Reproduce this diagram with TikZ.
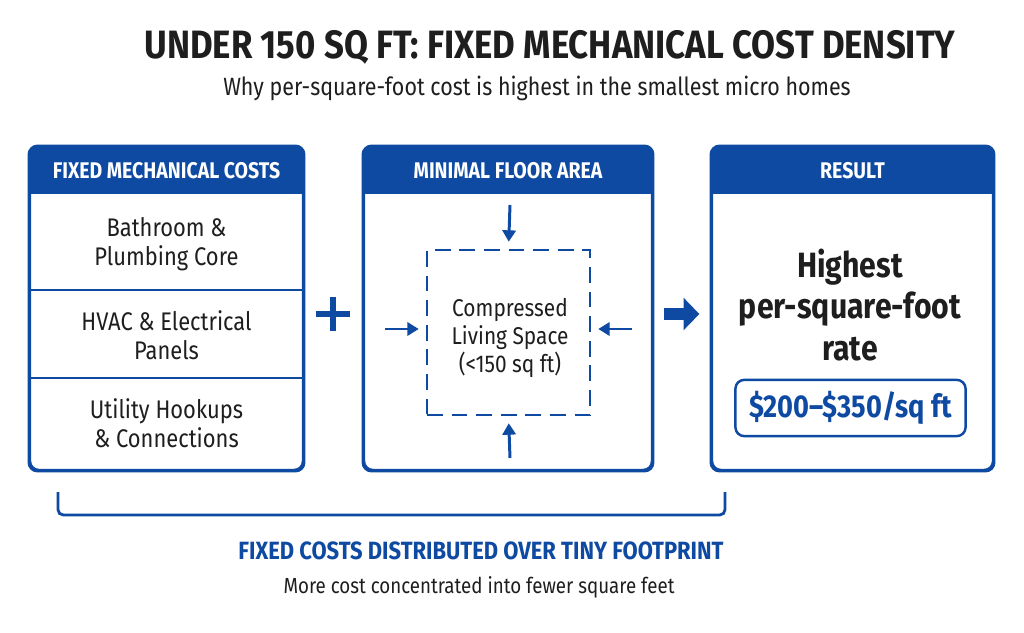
\documentclass[tikz,border=0pt]{standalone}
\usepackage{fontspec}
\setmainfont{Fira Sans}[FakeStretch=0.86]
\newfontfamily\titlefont{Fira Sans}[FakeStretch=0.88]
\usepackage{tikz}
\usetikzlibrary{arrows.meta,fit}

\definecolor{brand}{RGB}{14,74,162}
\definecolor{ink}{RGB}{30,30,30}

\tikzset{
    panel/.style={draw=brand, line width=1.4pt, rounded corners=5pt, inner sep=0pt},
    hdrtext/.style={text=white, font=\bfseries\fontsize{12.9}{14}\selectfont},
    rowtext/.style={text=ink, align=center, font=\fontsize{14.5}{16.5}\selectfont},
    squeeze/.style={draw=brand, line width=1.7pt, -{Triangle[length=6.5pt,width=7.5pt]}}
}

\begin{document}
\begin{tikzpicture}[x=0.02cm, y=-0.02cm]
    \useasboundingbox[fill=white] (0,0) rectangle (1024,632);

    % titles
    \node[text=ink, font=\titlefont\bfseries\fontsize{22.5}{24}\selectfont] (title) at (550,47)
        {UNDER 150 SQ FT: FIXED MECHANICAL COST DENSITY};
    \node[text=ink, font=\fontsize{14.2}{16}\selectfont] (subtitle) at (537,88)
        {Why per-square-foot cost is highest in the smallest micro homes};

    % three panels
    \node[panel, fit={(30,147) (303,470)}] (fixed) {};
    \node[panel, fit={(364,147) (652,470)}] (floor) {};
    \node[panel, fit={(712,147) (993,470)}] (result) {};
    \foreach \p in {fixed, floor, result} {
        \begin{scope}
            \clip[rounded corners=5pt] (\p.north west) rectangle (\p.south east);
            \fill[brand] (\p.north west) rectangle ([yshift=-0.96cm]\p.north east);
        \end{scope}
        \draw[panel] (\p.north west) rectangle (\p.south east);
    }
    \node[hdrtext] (fixedhdr) at (166.5,171) {FIXED MECHANICAL COSTS};
    \node[hdrtext] (floorhdr) at (508,171) {MINIMAL FLOOR AREA};
    \node[hdrtext] (resulthdr) at (852.5,171) {RESULT};

    % fixed cost rows
    \draw[brand, line width=1.1pt] (30,290) -- (303,290);
    \draw[brand, line width=1.1pt] (30,378) -- (303,378);
    \node[rowtext] (bath) at (166.5,244) {Bathroom \&\\Plumbing Core};
    \node[rowtext] (hvac) at (166.5,335) {HVAC \& Electrical\\Panels};
    \node[rowtext] (util) at (166.5,423) {Utility Hookups\\\& Connections};

    % plus sign
    \node[inner sep=0pt, minimum size=0.68cm] (plus) at (333,314) {};
    \draw[brand, line width=3.2pt] (plus.west) -- (plus.east) (plus.north) -- (plus.south);

    % compressed living space
    \node[draw=brand, line width=1.4pt, dash pattern=on 9pt off 5pt, inner sep=0pt,
          fit={(427,250) (590,415)}] (living) {};
    \node[rowtext, font=\fontsize{13.8}{16}\selectfont] (livingtext) at (510,338)
        {Compressed\\Living Space\\(<150 sq ft)};
    \coordinate (ptop) at (510,205);
    \coordinate (pbot) at (510,458);
    \coordinate (pleft) at (385,329);
    \coordinate (pright) at (632,329);
    \draw[squeeze, shorten >=4pt] (ptop) -- (living.north);
    \draw[squeeze, shorten >=4pt] (pbot) -- (living.south);
    \draw[squeeze, shorten >=4pt] (pleft) -- (pleft -| living.west);
    \draw[squeeze, shorten >=4pt] (pright) -- (pright -| living.east);

    % big arrow
    \draw[brand, line width=7pt, -{Triangle[length=9pt,width=18pt]},
          shorten <=6pt, shorten >=6.5pt] (floor.east |- 0,314) -- (result.west |- 0,314);

    % result
    \node[text=ink, align=center, font=\bfseries\fontsize{20}{23.5}\selectfont] (rate) at (850,305)
        {Highest\\per-square-foot\\rate};
    \node[draw=brand, line width=1.4pt, rounded corners=5pt, minimum width=131pt,
          minimum height=32pt, text=brand, font=\bfseries\fontsize{18}{20}\selectfont] (price)
        at (850.5,408) {\$200--\$350/sq ft};

    % bracket
    \coordinate (bl) at (58,492);
    \coordinate (br) at (725,492);
    \draw[brand, line width=1.6pt, rounded corners=3pt] (bl) |- (br |- 0,515) -- (br);

    % footer
    \node[text=brand, font=\titlefont\bfseries\fontsize{14.2}{16}\selectfont] (foothdr) at (481,551)
        {FIXED COSTS DISTRIBUTED OVER TINY FOOTPRINT};
    \node[text=ink, font=\fontsize{12.4}{15}\selectfont] (foottext) at (479,587)
        {More cost concentrated into fewer square feet};
\end{tikzpicture}
\end{document}
